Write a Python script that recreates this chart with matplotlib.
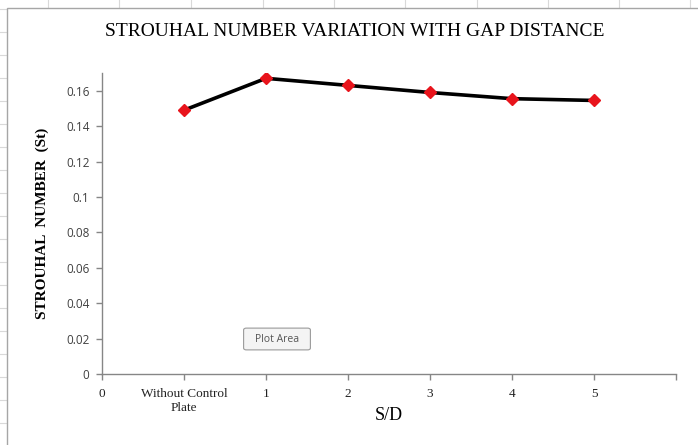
import matplotlib
matplotlib.use("Agg")
import matplotlib.pyplot as plt
from matplotlib.patches import Rectangle, FancyBboxPatch
from matplotlib.lines import Line2D

# data
x_pos = [1, 2, 3, 4, 5, 6]
strouhal = [0.149, 0.167, 0.163, 0.159, 0.1555, 0.1545]
tick_pos = [0, 1, 2, 3, 4, 5, 6, 7]
tick_labels = ["0", "Without Control\nPlate", "1", "2", "3", "4", "5", ""]
y_ticks = [0, 0.02, 0.04, 0.06, 0.08, 0.1, 0.12, 0.14, 0.16]
y_tick_labels = ["0", "0.02", "0.04", "0.06", "0.08", "0.1", "0.12", "0.14", "0.16"]

W, H = 698, 445
fig = plt.figure(figsize=(W / 100, H / 100), dpi=100)
fig.patch.set_facecolor("white")

# spreadsheet grid behind the chart
for gx in [48, 119, 191, 263, 334, 405, 477, 548, 619, 690]:
    fig.add_artist(Line2D([gx / W, gx / W], [0, 1], color="#d9d9d9", lw=0.8, zorder=0))
for gy in range(9, H, 23):
    fig.add_artist(Line2D([0, 1], [1 - gy / H, 1 - gy / H], color="#d9d9d9", lw=0.8, zorder=0))

# chart area
fig.add_artist(Rectangle((7 / W, -0.01), 1.0, 1 - 8 / H + 0.01, transform=fig.transFigure,
                         facecolor="white", edgecolor="#a6a6a6", lw=1.0, zorder=1))

ax = fig.add_axes([102 / W, 1 - 374 / H, (676 - 102) / W, (374 - 73) / H])
ax.set_zorder(2)
ax.patch.set_alpha(0)

ax.plot(x_pos, strouhal, color="black", lw=2.6, marker="D", markersize=6,
        markerfacecolor="#e8141c", markeredgecolor="#e8141c", zorder=3)

ax.set_xlim(0, 7)
ax.set_ylim(0, 0.17)
ax.set_xticks(tick_pos)
ax.set_xticklabels(tick_labels, fontfamily="Liberation Serif", fontsize=9.5, color="#222222")
ax.set_yticks(y_ticks)
ax.set_yticklabels(y_tick_labels, fontfamily="Open Sans", fontsize=8.5, color="#404040")

for s in ["top", "right"]:
    ax.spines[s].set_visible(False)
for s in ["left", "bottom"]:
    ax.spines[s].set_color("#868686")
    ax.spines[s].set_linewidth(1.0)
ax.tick_params(axis="both", direction="out", length=4, color="#868686", width=1.0)
ax.tick_params(axis="x", pad=6)
ax.tick_params(axis="y", pad=5)

ax.set_xlabel("S/D", fontfamily="Liberation Serif", fontsize=13, labelpad=-5)
ax.set_ylabel("STROUHAL  NUMBER  (St)", fontfamily="Liberation Serif", fontsize=11,
              fontweight="bold", labelpad=12)

fig.text(355 / W, 1 - 32 / H, "STROUHAL NUMBER VARIATION WITH GAP DISTANCE",
         fontfamily="Liberation Serif", fontsize=14, ha="center", va="center")

# "Plot Area" tooltip
fig.add_artist(FancyBboxPatch((245 / W, 1 - 349 / H), 64 / W, 20 / H,
                              boxstyle="round,pad=0.002,rounding_size=0.004",
                              transform=fig.transFigure, facecolor="#f4f4f4",
                              edgecolor="#9a9a9a", lw=0.8, zorder=4))
fig.text(277 / W, 1 - 339 / H, "Plot Area", fontfamily="Open Sans", fontsize=7.5,
         color="#555555", ha="center", va="center", zorder=5)

fig.savefig("out.png", dpi=100)
